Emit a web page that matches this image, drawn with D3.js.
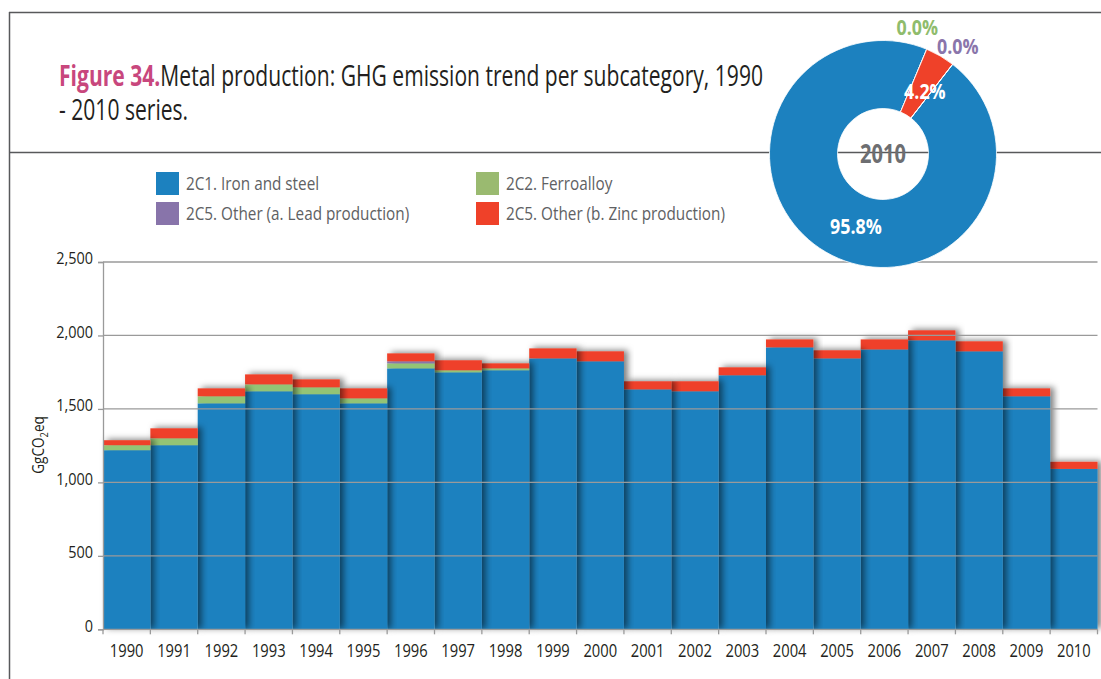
<!DOCTYPE html>
<html>
<head>
<meta charset="utf-8">
<script src="https://cdn.jsdelivr.net/npm/d3@7"></script>
<style>
  html, body { margin: 0; padding: 0; background: #fff; }
  svg { display: block; }
</style>
</head>
<body>
<svg id="chart" width="1101" height="679"></svg>
<script>
// Metal production GHG emissions (GgCO2eq) by subcategory, 1990–2010
const years = ["1990","1991","1992","1993","1994","1995","1996","1997","1998","1999","2000",
               "2001","2002","2003","2004","2005","2006","2007","2008","2009","2010"];
const ironSteel  = [1219,1253,1538,1620,1600,1538,1776,1749,1763,1844,1824,1633,1620,1729,1919,1844,1905,1967,1892,1586,1092];
const ferroalloy = [34,47,48,47,47,34,34,14,13,0,0,0,0,0,0,0,0,0,0,0,0];
const leadProd   = [0,0,0,0,0,0,14,0,0,0,0,0,0,0,0,0,0,0,0,0,0];
const zincProd   = [34,68,54,68,54,68,54,68,34,68,68,55,68,54,54,55,68,68,68,54,48];

const seriesNames = ["2C1. Iron and steel", "2C2. Ferroalloy",
                     "2C5. Other (a. Lead production)", "2C5. Other (b. Zinc production)"];
const seriesColors = ["#1c81bf", "#93c474", "#8874aa", "#ef4129"];
const legendColors = ["#1c81bf", "#9aba70", "#8874aa", "#ef4129"];
const yTicks = [0, 500, 1000, 1500, 2000, 2500];
const pieYear = "2010";

const FONT = "'Open Sans', 'Noto Sans', sans-serif";

const svg = d3.select("#chart");
const defs = svg.append("defs");

// narrow typeface look: horizontally compressed text
const K = 0.85;
function ctext(parent, x, y, size, opts = {}) {
  const g = parent.append("g").attr("transform", `translate(${x},${y}) scale(${opts.k || K},1)`);
  return g.append("text")
    .attr("font-family", FONT)
    .attr("font-size", size)
    .attr("font-weight", opts.weight || "normal")
    .attr("fill", opts.fill || "#231f20")
    .attr("text-anchor", opts.anchor || "start")
    .attr("dy", opts.dy || null);
}

// soft shadow cast to the right of each bar
const shadow = defs.append("filter").attr("id", "barShadow")
  .attr("x", "-10%").attr("y", "-10%").attr("width", "130%").attr("height", "120%");
shadow.append("feDropShadow")
  .attr("dx", 4).attr("dy", -1).attr("stdDeviation", 3)
  .attr("flood-color", "#000").attr("flood-opacity", 0.5);

// ---- frame lines ----
const frameColor = "#58595b";
svg.append("line").attr("x1", 9.5).attr("x2", 9.5).attr("y1", 12).attr("y2", 679)
  .attr("stroke", frameColor).attr("stroke-width", 1.5);
svg.append("line").attr("x1", 9).attr("x2", 1101).attr("y1", 12.5).attr("y2", 12.5)
  .attr("stroke", frameColor).attr("stroke-width", 1.5);
svg.append("line").attr("x1", 9).attr("x2", 1101).attr("y1", 152.5).attr("y2", 152.5)
  .attr("stroke", frameColor).attr("stroke-width", 1.5);

// ---- title (compression fitted to the width of the first line) ----
const titleSize = 29;
const t1 = ctext(svg, 59, 86, titleSize);
t1.append("tspan").attr("font-weight", "bold").attr("fill", "#c8477d").text("Figure 34.");
t1.append("tspan").text("Metal production: GHG emission trend per subcategory, 1990");
const natural = t1.node().getComputedTextLength();
const KT = natural > 0 ? 704 / natural : 0.6;
d3.select(t1.node().parentNode).attr("transform", `translate(59,86) scale(${KT},1)`);
ctext(svg, 59, 120, titleSize, { k: KT }).text("- 2010 series.");

// ---- legend ----
const legendItems = [
  { i: 0, x: 156, y: 172 }, { i: 1, x: 476, y: 172 },
  { i: 2, x: 156, y: 202 }, { i: 3, x: 476, y: 202 }
];
const lg = svg.append("g");
legendItems.forEach(d => {
  lg.append("rect").attr("x", d.x).attr("y", d.y).attr("width", 23).attr("height", 23)
    .attr("fill", legendColors[d.i]);
  ctext(lg, d.x + 30, d.y + 18, 18, { fill: "#606163" }).text(seriesNames[d.i]);
});

// ---- stacked bar chart ----
const plot = { left: 103, right: 1097.5, top: 262, bottom: 629.3 };
const x = d3.scaleBand().domain(years).range([plot.left, plot.right]).padding(0);
const y = d3.scaleLinear().domain([0, 2500]).range([plot.bottom, plot.top]);

const rows = years.map((yr, i) => ({
  year: yr, iron: ironSteel[i], ferro: ferroalloy[i], lead: leadProd[i], zinc: zincProd[i]
}));
const keys = ["iron", "ferro", "lead", "zinc"];
const stacked = d3.stack().keys(keys)(rows);

// one group per year, drawn from right to left so each shadow lands on the next bar
const barsG = svg.append("g");
const yearGroups = barsG.selectAll("g.year")
  .data(rows.map((r, i) => i).reverse())
  .join("g").attr("class", "year").attr("filter", "url(#barShadow)");
yearGroups.each(function (i) {
  const g = d3.select(this);
  stacked.forEach((s, k) => {
    const seg = s[i];
    if (seg[1] - seg[0] <= 0) return;
    g.append("rect")
      .attr("x", x(years[i]))
      .attr("width", x.bandwidth())
      .attr("y", y(seg[1]))
      .attr("height", y(seg[0]) - y(seg[1]))
      .attr("fill", seriesColors[k]);
  });
});

// gridlines over the bars
svg.append("g").selectAll("line")
  .data(yTicks.filter(t => t > 0))
  .join("line")
  .attr("x1", plot.left).attr("x2", plot.right)
  .attr("y1", d => y(d)).attr("y2", d => y(d))
  .attr("stroke", "#9a9a9a").attr("stroke-width", 1.3);

// y axis
const yAxis = svg.append("g").attr("transform", `translate(${plot.left},0)`)
  .call(d3.axisLeft(y).tickValues(yTicks).tickFormat(d3.format(",")).tickSize(5).tickPadding(5));
yAxis.select(".domain").attr("stroke", "#9a9a9a").attr("stroke-width", 1.3);
yAxis.selectAll(".tick line").attr("stroke", "#9a9a9a").attr("stroke-width", 1.3);
yAxis.selectAll(".tick text")
  .attr("x", 0).attr("dy", "0.1em")
  .attr("transform", `translate(-10,0) scale(${K},1)`)
  .attr("font-family", FONT).attr("font-size", 17)
  .attr("fill", "#231f20");

// x axis with ticks at band boundaries
const xAxisG = svg.append("g").attr("transform", `translate(0,${plot.bottom})`);
xAxisG.append("line").attr("x1", plot.left).attr("x2", plot.right)
  .attr("stroke", "#9a9a9a").attr("stroke-width", 1.3);
const edges = years.map(d => x(d)).concat([x(years[years.length - 1]) + x.bandwidth()]);
xAxisG.selectAll("line.tk")
  .data(edges)
  .join("line").attr("class", "tk")
  .attr("x1", d => d).attr("x2", d => d)
  .attr("y1", 0).attr("y2", 5)
  .attr("stroke", "#9a9a9a").attr("stroke-width", 1.3);
years.forEach(d => {
  ctext(xAxisG, x(d) + x.bandwidth() / 2, 28, 18, { anchor: "middle", k: 0.82 }).text(d);
});

// y axis title
const yTitle = svg.append("g").attr("transform", `translate(44,445) rotate(-90) scale(${K},1)`)
  .append("text")
  .attr("text-anchor", "middle")
  .attr("font-family", FONT).attr("font-size", 16).attr("fill", "#231f20");
yTitle.append("tspan").text("GgCO");
yTitle.append("tspan").attr("font-size", 11).attr("dy", 4).text("2");
yTitle.append("tspan").attr("dy", -4).text("eq");

// ---- 2010 donut ----
const pi = years.indexOf(pieYear);
const pieValues = [ironSteel[pi], ferroalloy[pi], zincProd[pi], leadProd[pi]];
const pieColors = [seriesColors[0], seriesColors[1], seriesColors[3], seriesColors[2]];
const pieLabelColors = ["#ffffff", "#8fbc6c", "#ffffff", "#8a75ab"];
const total = d3.sum(pieValues);
const cx = 883, cy = 154, rOuter = 113.5, rInner = 45.5;

const pie = d3.pie().sort(null).value(d => d)
  .startAngle(0.66).endAngle(0.66 + 2 * Math.PI);
const arcs = pie(pieValues);
const arc = d3.arc().innerRadius(rInner).outerRadius(rOuter);
const donut = svg.append("g").attr("transform", `translate(${cx},${cy})`);
donut.selectAll("path").data(arcs).join("path")
  .attr("d", arc).attr("fill", (d, i) => pieColors[i])
  .attr("stroke", "#fff").attr("stroke-width", 0.8);

const pct = d3.format(".1f");
// label placement: filled slices inside the ring, empty slices just outside it
const labelAngleNudge = [-0.17, -0.13, 0.06, -0.05];
const labelRadiusNudge = [-2, 17, -4, 17];
arcs.forEach((a, i) => {
  const share = a.data / total * 100;
  let ang, r;
  if (a.data > 0) {
    ang = (a.startAngle + a.endAngle) / 2 + labelAngleNudge[i];
    r = (rInner + rOuter) / 2 + labelRadiusNudge[i];
  } else {
    ang = a.startAngle + labelAngleNudge[i];
    r = rOuter + labelRadiusNudge[i];
  }
  ctext(donut, Math.sin(ang) * r, -Math.cos(ang) * r, 21,
        { weight: "bold", fill: pieLabelColors[i], anchor: "middle", dy: "0.35em" })
    .text(pct(share) + "%");
});
ctext(donut, 0, 0, 26, { weight: "bold", fill: "#6d6e71", anchor: "middle", dy: "0.35em", k: 0.77 })
  .text(pieYear);
</script>
</body>
</html>
